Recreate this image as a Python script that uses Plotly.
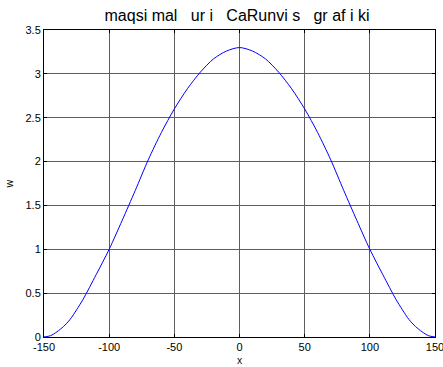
import plotly.graph_objects as go

# values
x_vals = [-150, -145, -140, -135, -130, -125, -120, -110, -100, -90, -80, -70, -60, -50, -40, -30, -20, -10, 0,
          10, 20, 30, 40, 50, 60, 70, 80, 90, 100, 110, 120, 125, 130, 135, 140, 145, 150]
w_vals = [0.0, 0.015, 0.06, 0.12, 0.2, 0.31, 0.43, 0.71, 1.0, 1.33, 1.67, 2.02, 2.33, 2.6, 2.83, 3.02, 3.17, 3.26, 3.3,
          3.26, 3.17, 3.02, 2.83, 2.6, 2.33, 2.02, 1.67, 1.33, 1.0, 0.71, 0.43, 0.31, 0.2, 0.12, 0.06, 0.015, 0.0]
x_ticks = [-150, -100, -50, 0, 50, 100, 150]
x_tick_text = ["-150", "-100", "-50", "0", "50", "100", "150"]
y_ticks = [0, 0.5, 1, 1.5, 2, 2.5, 3, 3.5]
y_tick_text = ["0", "0.5", "1", "1.5", "2", "2.5", "3", "3.5"]
title_words = ["maqsi\u00a0mal", "ur\u00a0i", "CaRunvi\u00a0s", "gr\u00a0af\u00a0i\u00a0ki"]

fig = go.Figure()
fig.add_trace(go.Scatter(x=x_vals, y=w_vals, mode="lines",
                         line=dict(color="#0000ff", width=1, shape="spline", smoothing=0.8),
                         showlegend=False, hoverinfo="skip"))

font = dict(family="Liberation Sans, Arial, sans-serif", size=11, color="black")
axis_common = dict(showline=True, linecolor="black", linewidth=1, mirror="ticks",
                   ticks="inside", ticklen=3, tickcolor="black",
                   showgrid=True, gridcolor="#5e5e5e", gridwidth=1,
                   zeroline=False, tickfont=font, automargin=False,
                   ticklabeloverflow="allow")

fig.update_layout(
    width=443, height=367, autosize=False,
    paper_bgcolor="white", plot_bgcolor="white",
    margin=dict(l=44, r=8, t=30, b=30),
    title=dict(text="\u00a0\u00a0\u00a0".join(title_words), x=0.535, xanchor="center",
               y=1 - 15 / 367, yanchor="middle", yref="container",
               font=dict(family="Liberation Sans, Arial", size=16, color="black")),
    xaxis=dict(range=[-150, 150], tickvals=x_ticks, ticktext=x_tick_text,
               title=dict(text="x", font=dict(size=10, color="black"), standoff=1),
               **axis_common),
    yaxis=dict(range=[0, 3.5], tickvals=y_ticks, ticktext=y_tick_text,
               title=dict(text="w", font=dict(size=10, color="black"), standoff=10),
               **axis_common),
)

fig.write_html("out.html", config={"displayModeBar": False},
               post_script="document.body.style.margin='0';document.body.style.overflow='hidden';")
